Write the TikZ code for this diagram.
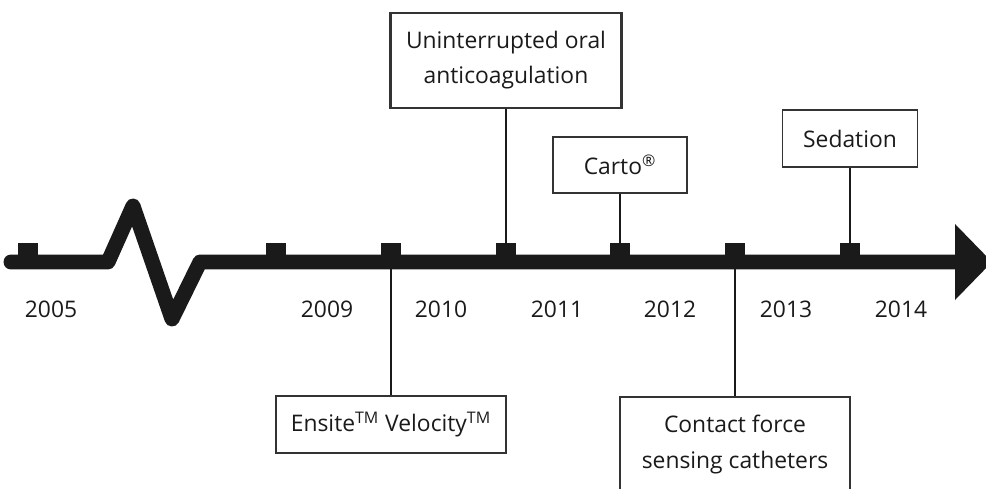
\documentclass[tikz,border=0pt]{standalone}
\usepackage{fontspec}
\setmainfont{Open Sans}
\definecolor{barblack}{RGB}{26,26,26}

\begin{document}
\begin{tikzpicture}[x=0.02cm, y=-0.02cm,
    box/.style={draw=black!80, line width=0.7pt, align=center, text=barblack,
      font=\fontsize{13}{20}\selectfont, inner sep=0pt},
    yearlab/.style={font=\fontsize{13}{16}\selectfont, text=barblack},
    tickmark/.style={fill=barblack, minimum width=0.4cm, minimum height=0.36cm, inner sep=0pt},
    stem/.style={draw=barblack, line width=0.85pt}]

  \useasboundingbox (0,0) rectangle (986,489);
  \clip (0,0) rectangle (986,489);

  % ticks on the axis
  \foreach \x [count=\i] in {28,276,391,506,620,735,850}
    \node[tickmark] (t\i) at (\x,252) {};

  % events above
  \node[box, line width=1.3pt, minimum width=4.62cm, minimum height=1.9cm] (oac) at (506,60.5) {Uninterrupted oral\\anticoagulation};
  \node[box, minimum width=2.68cm, minimum height=1.12cm] (carto) at (620,165) {Carto\textsuperscript{®}};
  \node[box, minimum width=2.7cm, minimum height=1.14cm] (sedation) at (850,138.5) {Sedation};

  % events below
  \node[box, minimum width=4.6cm, minimum height=1.14cm] (ensite) at (391,424.5) {Ensite\textsuperscript{TM} Velocity\textsuperscript{TM}};
  \node[box, minimum width=4.6cm, minimum height=1.9cm] (contact) at (735,444.5) {Contact force\\sensing catheters};

  \draw[stem] (oac) -- (t4);
  \draw[stem] (carto) -- (t5);
  \draw[stem] (sedation) -- (t7);
  \draw[stem] (t3) -- (ensite);
  \draw[stem] (t6) -- (contact);

  % axis with the break
  \draw[barblack, line width=0.3cm, line join=round, line cap=round]
    (11,262) -- (108,262) -- (133,206) -- (172,319) -- (200,262) -- (957,262);
  \fill[barblack] (955,224) -- (992,262) -- (955,300) -- cycle;

  % years
  \foreach \x/\yr in {51/2005,327/2009,441/2010,557/2011,670/2012,786/2013,901/2014}
    \node[yearlab] (y\yr) at (\x,309) {\yr};

\end{tikzpicture}
\end{document}
